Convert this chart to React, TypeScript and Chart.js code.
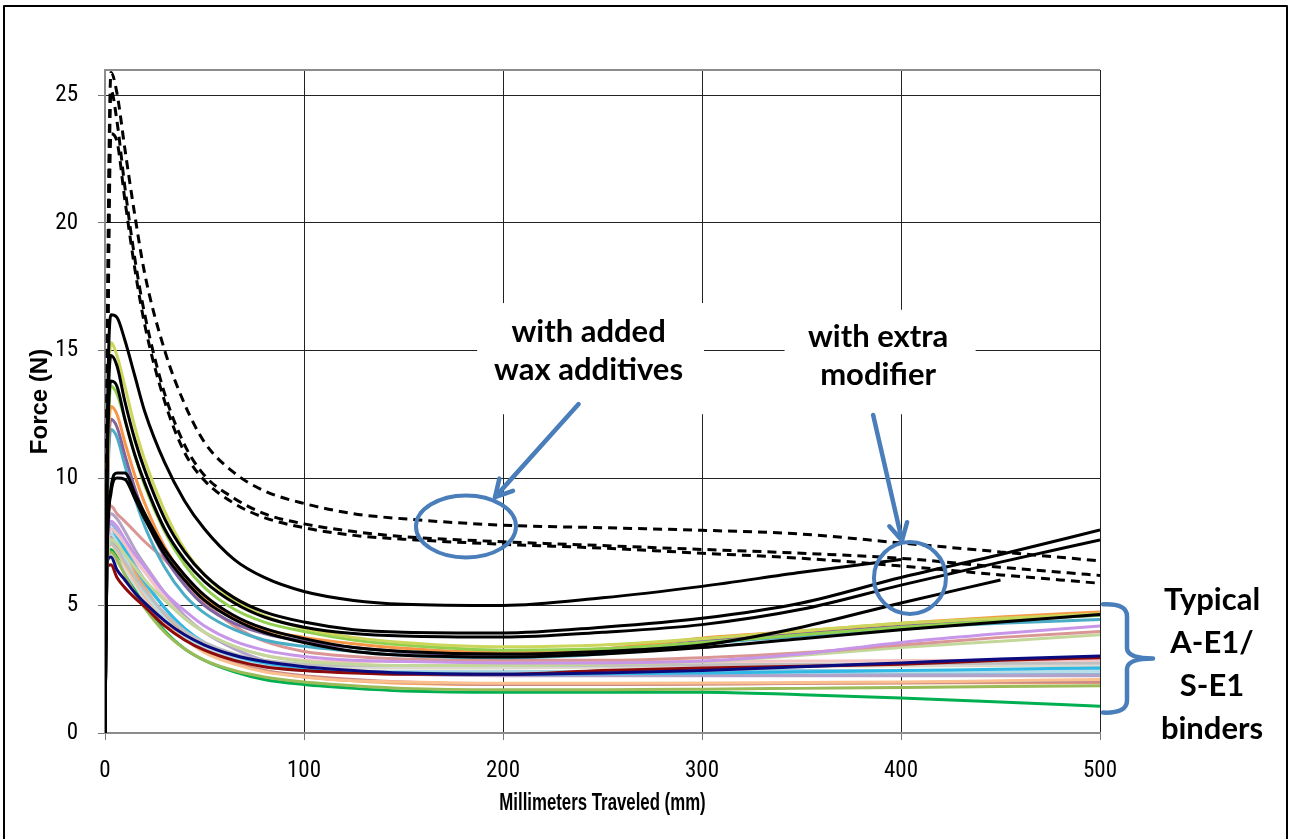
import React, { useEffect, useRef } from "react";
import { Chart, registerables } from "chart.js";
Chart.register(...registerables);

// ---------- data ----------
const X_MM = [0, 1, 3, 6, 10, 15, 20, 30, 40, 50, 65, 80, 100, 125, 150, 200, 250, 300, 350, 400, 450, 500];
const X_TICKS = [0, 100, 200, 300, 400, 500];
const Y_TICKS = [0, 5, 10, 15, 20, 25];

// dashed: with added wax additives
const WAX_A = [0, 14, 25.9, 25.1, 22.9, 20.3, 18.0, 15.0, 12.9, 11.4, 10.2, 9.5, 9.0, 8.6, 8.4, 8.15, 8.05, 7.95, 7.8, 7.45, 7.1, 6.75];
const WAX_B = [0, 12, 25.2, 24.0, 21.4, 18.6, 16.4, 13.3, 11.3, 10.1, 9.2, 8.6, 8.2, 7.9, 7.7, 7.5, 7.35, 7.2, 7.05, 6.85, 6.5, 6.18];
const WAX_C = [0, 11, 23.5, 23.2, 20.9, 18.2, 16.0, 13.0, 11.0, 9.9, 9.0, 8.45, 8.05, 7.75, 7.6, 7.4, 7.25, 7.05, 6.85, 6.55, 6.2, 5.87];

// solid black: with extra modifier
const MOD_1 = [0, 11, 16.4, 16.3, 15.4, 14.0, 12.6, 10.6, 9.1, 8.0, 6.8, 6.1, 5.55, 5.2, 5.05, 5.0, 5.3, 5.75, 6.3, 6.8, null, null];
const MOD_2 = [0, 10, 14.8, 14.4, 13.0, 11.5, 10.3, 8.4, 7.1, 6.2, 5.3, 4.75, 4.35, 4.05, 3.95, 3.92, 4.15, 4.5, 5.1, 6.1, 7.0, 7.96];
const MOD_3 = [0, 9.5, 13.8, 13.6, 12.3, 10.9, 9.8, 8.0, 6.8, 5.95, 5.1, 4.55, 4.15, 3.9, 3.8, 3.76, 3.95, 4.25, 4.85, 5.8, 6.7, 7.57];
const MOD_4 = [0, 7, 9.6, 10.2, 10.2, 9.4, 8.6, 7.2, 6.2, 5.4, 4.6, 4.1, 3.7, 3.35, 3.2, 3.1, 3.2, 3.45, 4.15, 5.1, 6.0, null];
const MOD_5 = [0, 6.8, 9.4, 10.0, 9.95, 9.2, 8.4, 7.0, 6.0, 5.2, 4.45, 3.95, 3.55, 3.2, 3.05, 2.98, 3.1, 3.35, 3.7, 4.05, 4.35, 4.65];

// typical A-E1 / S-E1 binders
const BIN_YELLOW = [0, 10, 15.3, 14.8, 13.6, 12.0, 10.7, 8.7, 7.2, 6.2, 5.2, 4.6, 4.1, 3.75, 3.55, 3.38, 3.45, 3.7, 4.0, 4.3, 4.5, 4.68];
const BIN_LIME = [0, 9, 13.6, 13.3, 12.3, 10.9, 9.7, 7.9, 6.6, 5.7, 4.85, 4.35, 3.98, 3.65, 3.45, 3.25, 3.3, 3.55, 3.85, 4.15, 4.4, 4.62];
const BIN_ORANGE = [0, 8.5, 12.8, 12.5, 11.4, 10.1, 9.0, 7.3, 6.1, 5.3, 4.5, 4.05, 3.75, 3.5, 3.32, 3.15, 3.3, 3.72, 4.0, 4.3, 4.55, 4.75];
const BIN_PURPLE = [0, 8.2, 12.3, 12.0, 10.9, 9.6, 8.5, 6.9, 5.8, 5.0, 4.3, 3.9, 3.6, 3.35, 3.18, 3.05, 3.2, 3.6, 3.9, 4.2, 4.45, 4.62];
const BIN_TEAL = [0, 8, 11.9, 11.6, 10.5, 9.2, 8.1, 6.5, 5.4, 4.7, 4.05, 3.65, 3.4, 3.2, 3.05, 2.95, 3.1, 3.5, 3.8, 4.1, 4.3, 4.45];
const BIN_VIOLET = [0, 7.0, 8.3, 8.1, 7.6, 7.0, 6.5, 5.5, 4.8, 4.2, 3.6, 3.25, 3.0, 2.85, 2.8, 2.75, 2.75, 2.82, 3.1, 3.55, 3.9, 4.2];
const BIN_ROSE = [0, 7.2, 8.9, 8.6, 8.3, 7.9, 7.5, 6.8, 5.9, 5.1, 4.2, 3.6, 3.2, 3.0, 2.9, 2.85, 2.85, 2.95, 3.15, 3.45, 3.75, 3.98];
const BIN_SAGE = [0, 6.8, 7.6, 7.4, 7.0, 6.5, 6.0, 5.2, 4.5, 3.95, 3.4, 3.05, 2.8, 2.7, 2.65, 2.65, 2.7, 2.8, 3.05, 3.35, 3.6, 3.85];
const BIN_NAVY = [0, 6.7, 6.9, 6.4, 6.0, 5.5, 5.1, 4.4, 3.85, 3.45, 3.05, 2.8, 2.6, 2.45, 2.35, 2.3, 2.35, 2.45, 2.6, 2.75, 2.9, 3.02];
const BIN_DARKRED = [0, 6.5, 6.6, 6.1, 5.7, 5.3, 4.95, 4.2, 3.65, 3.25, 2.85, 2.6, 2.45, 2.35, 2.3, 2.3, 2.45, 2.55, 2.62, 2.7, 2.85, 2.95];
const BIN_PINK = [0, 6.9, 8.0, 7.8, 7.4, 6.8, 6.3, 5.3, 4.5, 3.95, 3.4, 3.05, 2.85, 2.8, 2.8, 2.8, 2.8, 2.8, 2.82, 2.84, 2.85, 2.85];
const BIN_GRAY = [0, 6.8, 7.4, 7.2, 6.7, 6.1, 5.6, 4.7, 4.0, 3.55, 3.1, 2.85, 2.7, 2.65, 2.65, 2.65, 2.65, 2.68, 2.7, 2.72, 2.74, 2.75];
const BIN_CYAN = [0, 7.0, 8.0, 7.7, 7.2, 6.5, 5.9, 4.9, 4.1, 3.55, 3.05, 2.75, 2.55, 2.4, 2.35, 2.3, 2.32, 2.35, 2.4, 2.45, 2.5, 2.55];
const BIN_ICE = [0, 6.9, 7.8, 7.5, 6.9, 6.1, 5.5, 4.5, 3.8, 3.3, 2.9, 2.65, 2.5, 2.4, 2.35, 2.35, 2.35, 2.37, 2.38, 2.4, 2.4, 2.42];
const BIN_TAN = [0, 6.6, 7.4, 7.1, 6.6, 6.0, 5.4, 4.4, 3.7, 3.15, 2.7, 2.4, 2.2, 2.05, 2.0, 1.95, 1.95, 1.96, 1.98, 2.0, 2.05, 2.1];
const BIN_BRICK = [0, 6.8, 7.7, 7.3, 6.7, 6.0, 5.4, 4.4, 3.7, 3.2, 2.75, 2.45, 2.25, 2.1, 2.0, 1.9, 1.9, 1.92, 1.95, 1.97, 2.0, 2.0];
const BIN_OLIVE = [0, 6.5, 7.1, 6.8, 6.2, 5.5, 4.9, 3.95, 3.3, 2.85, 2.45, 2.2, 2.0, 1.85, 1.75, 1.7, 1.7, 1.72, 1.75, 1.78, 1.82, 1.85];
const BIN_LAVENDER = [0, 7.2, 8.6, 8.4, 7.9, 7.2, 6.6, 5.5, 4.6, 3.95, 3.3, 2.85, 2.55, 2.38, 2.3, 2.25, 2.25, 2.25, 2.25, 2.25, 2.25, 2.25];
const BIN_STEEL = [0, 7.0, 8.2, 7.9, 7.3, 6.6, 6.0, 4.9, 4.1, 3.5, 3.0, 2.7, 2.5, 2.4, 2.35, 2.3, 2.3, 2.3, 2.3, 2.3, 2.3, 2.3];
const BIN_SILVER = [0, 6.6, 7.0, 6.8, 6.4, 5.8, 5.3, 4.4, 3.8, 3.35, 2.95, 2.75, 2.65, 2.6, 2.6, 2.6, 2.62, 2.65, 2.67, 2.68, 2.7, 2.7];
const BIN_GREEN = [0, 6.5, 7.2, 6.9, 6.3, 5.6, 5.0, 4.0, 3.3, 2.85, 2.4, 2.1, 1.9, 1.75, 1.65, 1.6, 1.6, 1.6, 1.5, 1.37, 1.22, 1.05];
const BIN_APRICOT = [0, 6.9, 7.8, 7.5, 7.0, 6.3, 5.7, 4.6, 3.85, 3.3, 2.8, 2.45, 2.2, 2.05, 1.95, 1.9, 1.9, 1.92, 1.94, 1.96, 1.97, 1.98];
const BIN_AQUA = [0, 6.8, 7.5, 7.3, 6.8, 6.1, 5.5, 4.5, 3.8, 3.3, 2.85, 2.6, 2.45, 2.4, 2.4, 2.4, 2.42, 2.45, 2.45, 2.45, 2.45, 2.45];
const BIN_BEIGE = [0, 6.7, 6.9, 6.7, 6.3, 5.7, 5.2, 4.3, 3.7, 3.25, 2.9, 2.7, 2.6, 2.55, 2.55, 2.55, 2.58, 2.6, 2.62, 2.63, 2.64, 2.65];

type S = { name: string; y: (number | null)[]; color: string; dash?: number[]; width: number };
// first entries are drawn on top
const SERIES: S[] = [
  { name: "wax A", y: WAX_A, color: "#000000", dash: [9, 6], width: 3 },
  { name: "wax B", y: WAX_B, color: "#000000", dash: [9, 6], width: 3 },
  { name: "wax C", y: WAX_C, color: "#000000", dash: [9, 6], width: 3 },
  { name: "mod 1", y: MOD_1, color: "#000000", width: 3 },
  { name: "mod 2", y: MOD_2, color: "#000000", width: 3 },
  { name: "mod 3", y: MOD_3, color: "#000000", width: 3 },
  { name: "mod 4", y: MOD_4, color: "#000000", width: 3 },
  { name: "mod 5", y: MOD_5, color: "#000000", width: 3 },
  { name: "yellow", y: BIN_YELLOW, color: "#CBD65A", width: 3 },
  { name: "lime", y: BIN_LIME, color: "#92D050", width: 3 },
  { name: "orange", y: BIN_ORANGE, color: "#F79646", width: 3 },
  { name: "purple", y: BIN_PURPLE, color: "#8064A2", width: 3 },
  { name: "teal", y: BIN_TEAL, color: "#4BACC6", width: 3 },
  { name: "violet", y: BIN_VIOLET, color: "#C896E8", width: 3 },
  { name: "rose", y: BIN_ROSE, color: "#DA9694", width: 3 },
  { name: "sage", y: BIN_SAGE, color: "#C4D79B", width: 3 },
  { name: "navy", y: BIN_NAVY, color: "#0B0B80", width: 3 },
  { name: "darkred", y: BIN_DARKRED, color: "#8E0A0A", width: 3 },
  { name: "pink", y: BIN_PINK, color: "#F2C4C4", width: 3 },
  { name: "gray", y: BIN_GRAY, color: "#BFBFBF", width: 3 },
  { name: "cyan", y: BIN_CYAN, color: "#31B9E6", width: 3 },
  { name: "ice", y: BIN_ICE, color: "#B7DEE8", width: 3 },
  { name: "tan", y: BIN_TAN, color: "#FAC090", width: 3 },
  { name: "brick", y: BIN_BRICK, color: "#C98A88", width: 3 },
  { name: "olive", y: BIN_OLIVE, color: "#9BBB59", width: 3 },
  { name: "lavender", y: BIN_LAVENDER, color: "#B3A2C7", width: 3 },
  { name: "steel", y: BIN_STEEL, color: "#95B3D7", width: 3 },
  { name: "silver", y: BIN_SILVER, color: "#D9D9D9", width: 3 },
  { name: "green", y: BIN_GREEN, color: "#00B050", width: 3 },
  { name: "apricot", y: BIN_APRICOT, color: "#F4A460", width: 3 },
  { name: "aqua", y: BIN_AQUA, color: "#93CDDD", width: 3 },
  { name: "beige", y: BIN_BEIGE, color: "#DDD9C3", width: 3 },
];

const NOTE_WAX = ["with added", "wax additives"];
const NOTE_MOD = ["with extra", "modifier"];
const NOTE_TYPICAL = ["Typical", "A-E1/", "S-E1", "binders"];
const X_TITLE = "Millimeters Traveled (mm)";
const Y_TITLE = "Force (N)";

const BLUE = "#4A7EBB";
const SANS = "'Liberation Sans', Arial, sans-serif";
const TICK_FONT = "'Roboto Condensed', 'Liberation Sans', Arial, sans-serif";
const NOTE_FONT = "bold 31px Lato, 'Open Sans', sans-serif";

function arrow(ctx: CanvasRenderingContext2D, x0: number, y0: number, x1: number, y1: number) {
  ctx.beginPath();
  ctx.moveTo(x0, y0);
  ctx.lineTo(x1, y1);
  ctx.stroke();
  const ang = Math.atan2(y1 - y0, x1 - x0);
  const L = 19, s = 0.5;
  ctx.beginPath();
  ctx.moveTo(x1 - L * Math.cos(ang - s), y1 - L * Math.sin(ang - s));
  ctx.lineTo(x1, y1);
  ctx.lineTo(x1 - L * Math.cos(ang + s), y1 - L * Math.sin(ang + s));
  ctx.stroke();
}

const annotate = {
  id: "annotate",
  afterDraw(chart: any) {
    const { ctx, chartArea: a, scales } = chart;
    const px = (v: number) => scales.x.getPixelForValue(v);
    const py = (v: number) => scales.y.getPixelForValue(v);
    ctx.save();
    // plot frame top
    ctx.strokeStyle = "#8C8C8C";
    ctx.lineWidth = 2;
    ctx.beginPath();
    ctx.moveTo(a.left, a.top);
    ctx.lineTo(a.right, a.top);
    ctx.stroke();

    // white note boxes
    ctx.fillStyle = "#FFFFFF";
    ctx.fillRect(px(187), py(16.86), px(301) - px(187), py(12.5) - py(16.86));
    ctx.fillRect(px(341.5), py(16.6), px(437.5) - px(341.5), py(12.5) - py(16.6));

    // note texts
    ctx.fillStyle = "#000";
    ctx.font = NOTE_FONT;
    ctx.textAlign = "center";
    ctx.textBaseline = "alphabetic";
    ctx.fillText(NOTE_WAX[0], px(243), py(15.35));
    ctx.fillText(NOTE_WAX[1], px(243), py(13.85));
    ctx.fillText(NOTE_MOD[0], px(388.5), py(15.15));
    ctx.fillText(NOTE_MOD[1], px(388.5), py(13.65));

    // arrows and ellipses
    ctx.strokeStyle = BLUE;
    ctx.lineWidth = 4.5;
    ctx.lineCap = "round";
    ctx.lineJoin = "round";
    arrow(ctx, px(238), py(12.9), px(196), py(9.25));
    arrow(ctx, px(386), py(12.47), px(400.5), py(7.55));
    ctx.lineWidth = 4;
    ctx.beginPath();
    ctx.ellipse(px(181.4), py(8.1), 50, 31, 0, 0, Math.PI * 2);
    ctx.stroke();
    ctx.beginPath();
    ctx.ellipse(px(404.5), py(6.08), 36, 36, 0, 0, Math.PI * 2);
    ctx.stroke();

    // brace
    const bx = a.right;
    const top = py(5.05), bot = py(0.8), mid = (top + bot) / 2;
    ctx.lineWidth = 4.5;
    ctx.beginPath();
    ctx.moveTo(bx + 3, top);
    ctx.quadraticCurveTo(bx + 27, top - 1, bx + 27, top + 12);
    ctx.lineTo(bx + 27, mid - 10);
    ctx.quadraticCurveTo(bx + 28, mid, bx + 53, mid);
    ctx.moveTo(bx + 27, mid + 10);
    ctx.quadraticCurveTo(bx + 28, mid, bx + 53, mid);
    ctx.moveTo(bx + 27, mid + 10);
    ctx.lineTo(bx + 27, bot - 12);
    ctx.quadraticCurveTo(bx + 27, bot + 1, bx + 3, bot);
    ctx.stroke();

    // right-hand label
    ctx.fillStyle = "#000";
    ctx.font = NOTE_FONT;
    ctx.textAlign = "center";
    NOTE_TYPICAL.forEach((t, i) => ctx.fillText(t, bx + 112, top + 6 + i * 43));

    // axis titles
    ctx.font = `bold 24px ${SANS}`;
    ctx.textBaseline = "middle";
    ctx.save();
    ctx.translate((a.left + a.right) / 2, a.bottom + 70);
    ctx.scale(0.7, 1);
    ctx.fillText(X_TITLE, 0, 0);
    ctx.restore();
    ctx.save();
    ctx.translate(40, (a.top + a.bottom) / 2);
    ctx.rotate(-Math.PI / 2);
    ctx.fillText(Y_TITLE, 0, 0);
    ctx.restore();

    // outer frame
    ctx.strokeStyle = "#000";
    ctx.lineWidth = 2;
    ctx.strokeRect(4, 6, chart.width - 7, chart.height);
    ctx.restore();
  },
};

export default function App() {
  const ref = useRef<HTMLCanvasElement>(null);
  useEffect(() => {
    document.body.style.margin = "0";
    const datasets = SERIES.map((s) => ({
      label: s.name,
      data: X_MM.map((x, i) => ({ x, y: s.y[i] })),
      borderColor: s.color,
      borderWidth: s.width,
      borderDash: s.dash || [],
      pointRadius: 0,
      fill: false,
      cubicInterpolationMode: "monotone" as const,
      spanGaps: false,
    }));
    const chart = new Chart(ref.current!, {
      type: "line",
      data: { datasets },
      options: {
        animation: false,
        responsive: false,
        devicePixelRatio: 1,
        layout: { padding: { top: 70, left: 0, right: 190, bottom: 0 } },
        plugins: { legend: { display: false }, tooltip: { enabled: false } },
        scales: {
          x: {
            type: "linear",
            min: 0,
            max: 500,
            afterBuildTicks: (s: any) => { s.ticks = X_TICKS.map((v) => ({ value: v })); },
            afterFit: (s: any) => { s.height = 106; },
            ticks: { color: "#000", font: { family: TICK_FONT, size: 23 }, padding: 17, maxRotation: 0 },
            grid: {
              color: (c: any) => (c.tick && c.tick.value === 0 ? "rgba(0,0,0,0)" : "#222"),
              lineWidth: 1,
              tickLength: 7,
              tickColor: "#777",
            },
            border: { display: true, color: "#8C8C8C", width: 2 },
          },
          y: {
            type: "linear",
            min: 0,
            max: 26,
            afterBuildTicks: (s: any) => { s.ticks = Y_TICKS.map((v) => ({ value: v })); },
            afterFit: (s: any) => { s.width = 105; },
            ticks: { color: "#000", font: { family: TICK_FONT, size: 23 }, padding: 20 },
            grid: {
              color: (c: any) => (c.tick && c.tick.value === 0 ? "rgba(0,0,0,0)" : "#222"),
              lineWidth: 1,
              tickLength: 7,
              tickColor: "#777",
            },
            border: { display: true, color: "#8C8C8C", width: 2 },
          },
        },
      },
      plugins: [annotate],
    });
    return () => chart.destroy();
  }, []);
  return (
    <div style={{ position: "absolute", left: 0, top: 0, width: 1290, height: 839, background: "#fff" }}>
      <canvas ref={ref} width={1290} height={839} style={{ display: "block", width: 1290, height: 839 }} />
    </div>
  );
}
